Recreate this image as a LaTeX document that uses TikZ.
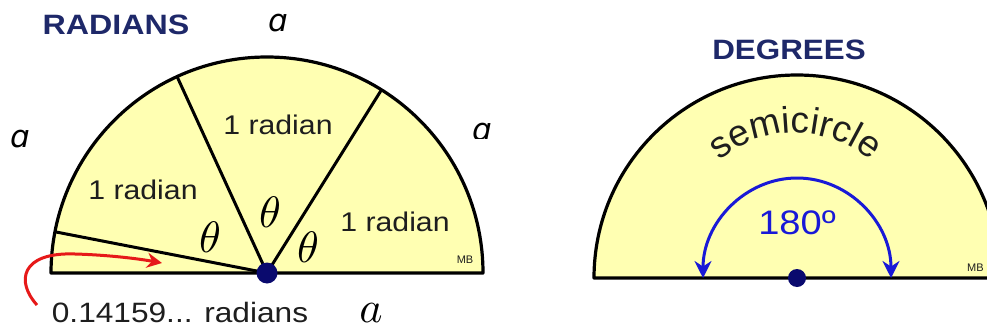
\documentclass[tikz,border=0pt]{standalone}
\usepackage{fontspec}
\setmainfont{Liberation Sans}
\newfontfamily\alphafont{DejaVu Sans}
\usepackage{graphicx}
\usetikzlibrary{arrows.meta,decorations.text}
\definecolor{fillyel}{RGB}{255,255,178}
\definecolor{titlenavy}{RGB}{30,40,105}
\definecolor{dotnavy}{RGB}{10,10,110}
\definecolor{arrred}{RGB}{230,25,25}
\definecolor{arcblue}{RGB}{25,25,215}
\definecolor{txtdark}{RGB}{30,30,30}
\newcommand\myfs[1]{\fontsize{#1}{#1}\selectfont}
\newcommand\wide[1]{\scalebox{1.12}[1]{#1}}
\tikzset{
  semi/.style={draw=black, line width=3.2pt, fill=fillyel, line join=round},
  radline/.style={draw=black, line width=3pt},
  radlbl/.style={text=txtdark, font=\myfs{27}, inner sep=0pt},
  thlbl/.style={inner sep=0pt},
  alabel/.style={font=\alphafont\myfs{31}\itshape, inner sep=0pt},
  title/.style={text=titlenavy, font=\myfs{28}\bfseries, inner sep=0pt},
  mbmark/.style={font=\myfs{11}, text=txtdark, inner sep=0pt},
  centdot/.style={circle, fill=dotnavy, inner sep=0pt},
}
\begin{document}
\begin{tikzpicture}[x=1pt,y=1pt]
\useasboundingbox (0,0) rectangle (987,330);
\clip (0,0) rectangle (987,330);
% ---------- RADIANS ----------
\coordinate (C1) at (267,57);
\draw[semi] (51,57) arc[start angle=180,end angle=0,radius=216] -- cycle;
\draw[radline] (C1) -- ++(58:216);
\draw[radline] (C1) -- ++(114.6:216);
\draw[radline] (C1) -- ++(169:216);
\node[centdot, minimum size=21pt] (d1) at (C1) {};
\node[title] (t1) at (116,305) {\scalebox{1.15}[1]{RADIANS}};
\node[radlbl] (r1) at (143,140) {\wide{1 radian}};
\node[radlbl] (r2) at (278,205) {\wide{1 radian}};
\node[radlbl] (r3) at (395,108) {\wide{1 radian}};
\node[thlbl] (th1) at (210,93) {\scalebox{4.4}{$\theta$}};
\node[thlbl] (th2) at (270,118) {\scalebox{4.4}{$\theta$}};
\node[thlbl] (th3) at (308,83) {\scalebox{4.4}{$\theta$}};
\node[mbmark] (mb1) at (465,70) {MB};
\node[alabel] (a1) at (278,307) {ɑ};
\node[alabel] (a2) at (20,191) {ɑ};
\begin{scope}
  \clip (460,191.5) rectangle (500,215);
  \node[alabel, anchor=base] (a3) at (482,189.5) {ɑ};
\end{scope}
\node[inner sep=0pt] (a4) at (371,17) {\scalebox{4.4}{$a$}};
\node[radlbl, font=\myfs{28}] (frac) at (180,18) {\scalebox{1.13}[1]{0.14159... radians}};
\coordinate (rs) at (37,25);
\coordinate (re) at (162,67);
\draw[arrred, line width=3pt, -{Stealth[length=15pt,width=15pt]}]
  (rs) .. controls (16,48) and (20,78) .. (75,76) .. controls (110,75) and (140,71) .. (re);
% ---------- DEGREES ----------
\coordinate (C2) at (797,52);
\draw[semi] (594,52) arc[start angle=180,end angle=0,radius=203] -- cycle;
\node[title] (t2) at (789,280) {\wide{DEGREES}};
\path[decorate, decoration={text along path, text align=center,
  text={|\myfs{37}\color{txtdark}|semicircle}}]
  (678.4,90.2) arc[start angle=175,end angle=5,radius=117];
\draw[arcblue, line width=3pt, {Stealth[length=17pt,width=17pt]}-{Stealth[length=17pt,width=17pt]}]
  (703,52) arc[start angle=180,end angle=0,x radius=94,y radius=100];
\node[text=arcblue, font=\myfs{34}, inner sep=0pt] (deg) at (797,107) {\wide{180º}};
\node[centdot, minimum size=18pt] (d2) at (C2) {};
\node[mbmark, anchor=west] (mb2) at (967,62) {MB};
\end{tikzpicture}
\end{document}
